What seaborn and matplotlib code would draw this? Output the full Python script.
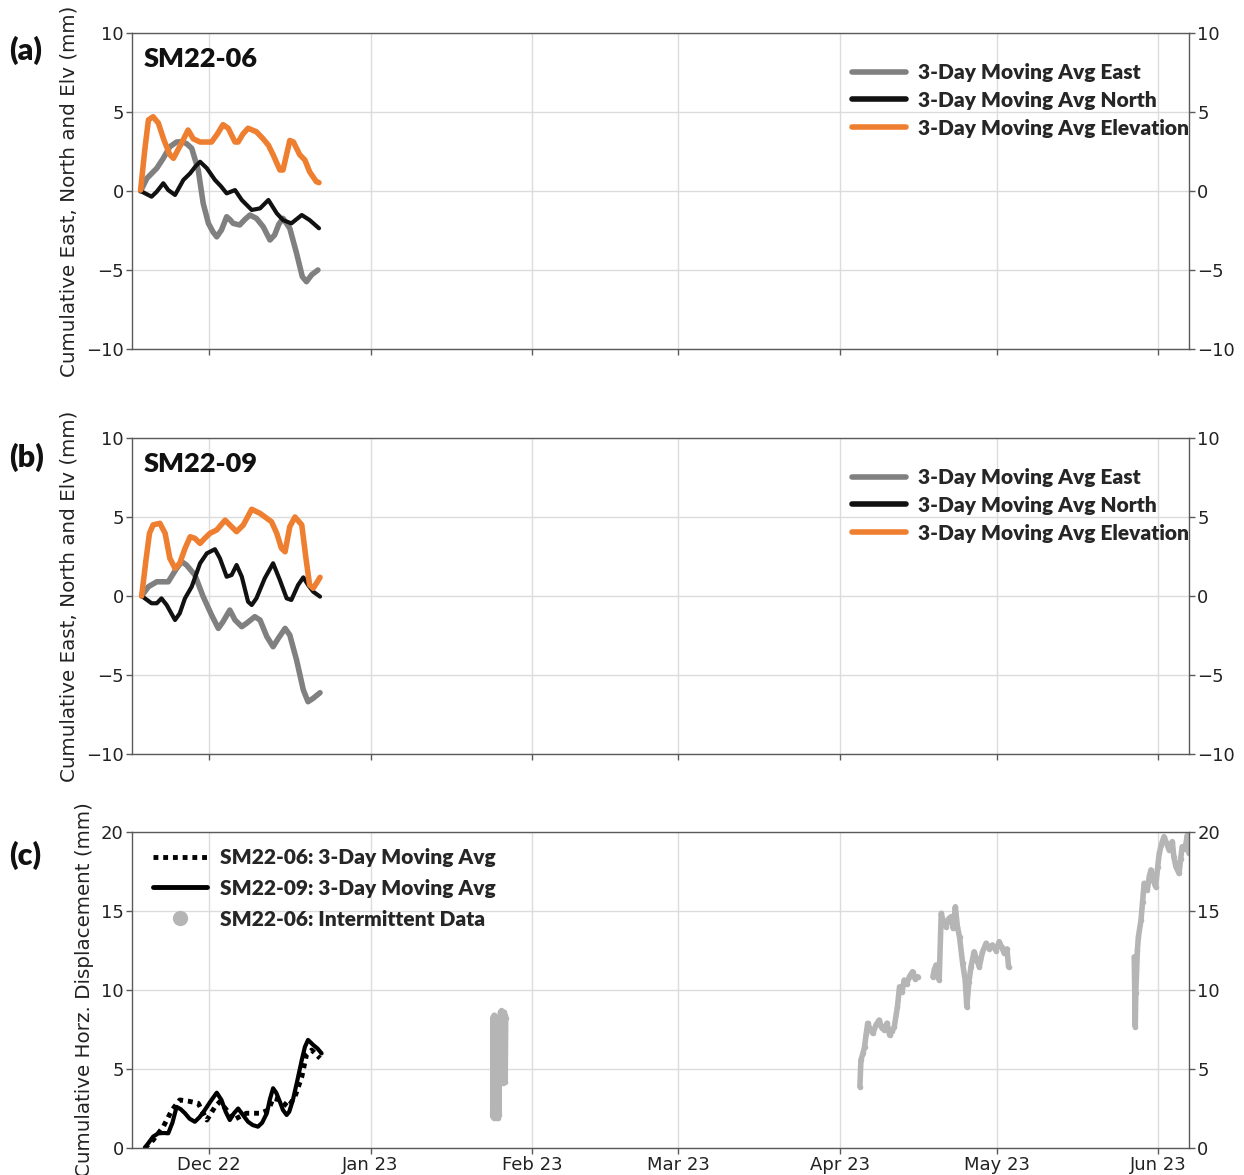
import numpy as np
import pandas as pd
import matplotlib
matplotlib.use("Agg")
import matplotlib.pyplot as plt
import matplotlib.dates as mdates
from matplotlib.lines import Line2D
import seaborn as sns

# ---------------------------------------------------------------------------
# Data: days counted from 2022-12-01, displacements in mm
# ---------------------------------------------------------------------------
BASE = pd.Timestamp("2022-12-01")

# SM22-06 (panel a)
a_east_days = [-13.1, -11.9, -10.0, -8.75, -7.5, -6.2, -5.2, -4.3, -3.3, -2.05, -1.1, -0.1, 0.8, 1.5,
               2.4, 3.4, 4.0, 4.65, 5.9, 6.9, 7.85, 9.1, 10.4, 11.7, 12.6, 13.4, 14.2, 15.5, 16.8,
               17.9, 18.7, 19.7, 20.9]
a_east = [0.0, 0.8, 1.44, 2.07, 2.8, 3.1, 3.12, 3.0, 2.7, 1.33, -0.78, -2.05, -2.6, -2.9,
          -2.47, -1.63, -1.8, -2.05, -2.15, -1.8, -1.52, -1.73, -2.26, -3.1, -2.78, -2.1, -1.73,
          -2.36, -3.94, -5.42, -5.74, -5.3, -5.0]

a_north_days = [-13.1, -11.0, -10.0, -8.75, -7.8, -6.5, -4.9, -3.6, -2.6, -1.7, -0.4, 1.15, 2.3,
                3.4, 5.0, 6.3, 8.2, 9.8, 11.4, 13.0, 14.2, 15.8, 17.8, 19.3, 21.1]
a_north = [0.0, -0.36, -0.04, 0.49, 0.06, -0.25, 0.7, 1.12, 1.55, 1.85, 1.44, 0.7, 0.3,
           -0.15, 0.06, -0.57, -1.2, -1.1, -0.57, -1.41, -1.84, -2.05, -1.52, -1.84, -2.36]

a_elev_days = [-13.1, -12.3, -11.6, -10.7, -9.7, -8.6, -7.5, -6.8, -5.3, -4.0, -3.0, -1.7, 0.5,
               1.6, 2.7, 3.7, 5.0, 5.6, 6.5, 7.5, 9.1, 10.4, 11.4, 12.3, 13.6, 14.2, 15.5, 16.2,
               17.4, 18.4, 19.3, 20.6, 21.1]
a_elev = [0.06, 2.6, 4.5, 4.7, 4.3, 3.2, 2.3, 2.07, 3.0, 3.86, 3.3, 3.1, 3.1,
          3.6, 4.2, 3.97, 3.1, 3.1, 3.6, 3.97, 3.75, 3.3, 2.9, 2.3, 1.33, 1.33, 3.2, 3.1,
          2.3, 1.96, 1.22, 0.59, 0.53]

# SM22-09 (panel b)
b_east_days = [-12.9, -11.6, -10.0, -7.8, -6.2, -5.2, -4.3, -2.7, -1.1, 0.5, 1.8, 2.7, 4.0, 5.0,
               6.3, 7.2, 8.8, 9.8, 11.1, 12.3, 13.3, 14.6, 15.5, 16.8, 18.1, 19.0, 20.0, 21.3]
b_east = [0.0, 0.59, 0.9, 0.9, 1.75, 2.17, 1.96, 1.33, -0.04, -1.2, -2.05, -1.63, -0.89, -1.52,
          -1.94, -1.73, -1.31, -1.52, -2.57, -3.21, -2.68, -2.05, -2.47, -4.05, -5.95, -6.69, -6.47, -6.12]

b_north_days = [-12.9, -11.0, -10.0, -9.1, -8.1, -6.5, -5.6, -4.6, -3.3, -1.7, -0.4, 1.15, 2.1, 3.4,
                4.35, 5.3, 6.3, 7.5, 8.2, 9.1, 10.7, 12.3, 13.6, 14.9, 15.8, 17.1, 18.1, 19.0, 20.0, 21.3]
b_north = [0.0, -0.46, -0.46, -0.15, -0.57, -1.52, -1.1, -0.15, 0.59, 2.07, 2.7, 2.96, 2.39, 1.22,
           1.33, 1.96, 1.22, -0.36, -0.57, -0.15, 1.12, 2.07, 1.01, -0.15, -0.25, 0.7, 1.18, 0.7, 0.27, -0.04]

b_elev_days = [-12.9, -12.1, -11.4, -10.7, -9.4, -8.4, -7.5, -6.5, -5.6, -4.6, -3.6, -2.7, -1.7,
               -0.8, 0.2, 1.5, 3.1, 4.0, 5.3, 6.6, 8.2, 9.8, 12.0, 13.0, 13.9, 14.6, 15.5, 16.5,
               17.8, 18.6, 19.3, 20.0, 20.6, 21.3]
b_elev = [0.0, 2.2, 3.97, 4.5, 4.6, 3.97, 2.39, 1.75, 2.07, 3.0, 3.75, 3.65, 3.33,
          3.65, 3.97, 4.18, 4.8, 4.5, 4.07, 4.5, 5.49, 5.23, 4.7, 3.97, 3.02, 2.8, 4.39, 5.0,
          4.5, 2.39, 0.7, 0.49, 0.8, 1.18]

# Horizontal displacement (panel c)
c06_days = [-12.3, -10.7, -8.75, -7.1, -5.6, -4.0, -2.05, -0.4, 1.15, 2.1, 3.4, 4.65, 7.2, 9.8,
            11.4, 12.3, 13.6, 15.2, 16.5, 17.8, 18.7, 19.7, 21.3]
c06_avg = [0.0, 0.5, 1.35, 2.4, 3.04, 2.97, 2.83, 1.77, 2.6, 2.93, 2.4, 1.77, 2.2, 2.2,
           2.4, 3.14, 3.04, 2.6, 3.25, 4.5, 5.9, 6.2, 5.68]

c09_days = [-12.3, -10.7, -9.7, -8.6, -7.8, -7.0, -6.2, -5.4, -4.6, -3.7, -2.7, -1.8, -0.8, 0.3,
            1.5, 2.4, 3.2, 4.0, 4.8, 5.6, 6.5, 7.5, 8.4, 9.4, 10.2, 11.1, 11.7, 12.3, 12.9, 13.6,
            14.2, 14.9, 15.4, 16.1, 16.9, 17.8, 18.4, 19.0, 20.0, 20.8, 21.6]
c09_avg = [0.0, 0.72, 0.93, 0.95, 0.93, 1.6, 2.6, 2.45, 2.2, 1.85, 1.66, 1.95, 2.4, 2.95,
           3.5, 3.04, 2.3, 1.77, 2.2, 2.5, 2.1, 1.66, 1.45, 1.35, 1.6, 2.2, 3.1, 3.78, 3.5, 2.93,
           2.4, 2.09, 2.3, 3.04, 4.2, 5.57, 6.4, 6.84, 6.52, 6.3, 5.99]

# SM22-06 intermittent raw records (recording windows)
jan_days = [54.4, 54.5, 54.6, 54.7, 54.8, 54.9, 55.0, 55.1, 55.2, 55.3, 55.4, 55.5, 55.6, 55.7,
            55.8, 55.9, 56.0, 56.1, 56.2, 56.3, 56.4, 56.5, 56.6, 56.7, 56.8, 56.9]
jan_vals = [2.0, 8.3, 1.9, 8.4, 2.1, 7.9, 1.9, 8.1, 2.0, 8.2, 1.9, 8.0, 2.1, 8.3,
            4.3, 8.6, 4.1, 8.7, 4.2, 8.5, 4.1, 8.6, 4.3, 8.4, 4.2, 8.2]

apr_days = [124.8, 125.0, 125.4, 125.7, 126.0, 126.3, 126.8, 127.3, 127.9, 128.5, 129.0, 129.5,
            130.0, 130.5, 131.0, 131.4, 132.0, 132.4, 132.9, 133.3, 133.8, 134.3, 134.9, 135.4,
            135.9]
apr_vals = [3.88, 5.57, 6.0, 6.41, 7.2, 7.89, 7.5, 7.26, 7.8, 8.1, 7.6, 7.47,
            7.9, 7.15, 7.4, 7.68, 8.94, 10.2, 9.9, 10.63, 10.4, 10.84, 11.16, 10.7,
            10.84]

may_days = [138.8, 139.1, 139.4, 139.7, 140.0, 140.4, 140.8, 141.3, 141.8, 142.3, 142.7, 143.1,
            143.5, 143.9, 144.5, 145.0, 145.3, 145.7, 146.1, 146.7, 147.2, 147.7, 148.3, 149.0,
            149.6, 150.2, 150.9, 151.5, 152.0, 152.5, 153.0, 153.3]
may_vals = [10.84, 11.3, 11.58, 11.0, 10.63, 14.85, 14.3, 14.0, 14.5, 14.64, 13.9, 15.27,
            14.0, 13.37, 11.69, 10.6, 8.94, 10.5, 11.47, 12.42, 11.9, 11.47, 12.4, 12.96,
            12.6, 12.85, 12.5, 13.06, 12.7, 12.32, 12.6, 11.47]

jun_days = [177.4, 177.6, 177.7, 178.0, 178.2, 178.7, 179.0, 179.3, 179.9, 180.3, 180.6, 181.0,
            181.5, 181.9, 182.2, 182.6, 183.1, 183.6, 184.1, 184.7, 185.0, 185.4, 186.0, 186.3,
            186.6, 187.1, 187.6, 187.9]
jun_vals = [12.1, 7.68, 9.79, 12.5, 13.37, 14.43, 15.6, 16.75, 16.33, 17.2, 17.6, 17.0,
            16.54, 17.8, 18.65, 19.2, 19.7, 19.3, 18.86, 19.39, 18.4, 17.8, 17.38, 18.3,
            19.07, 18.9, 19.81, 18.65]

month_fmt = "%b %y"
x_range_days = (-14.75, 187.9)

# ---------------------------------------------------------------------------
C_EAST = "#808080"
C_NORTH = "#111111"
C_ELEV = "#ef7f30"
C_RAW = "#b5b5b5"
SPINE = "#5a5a5a"


def to_dates(days):
    return BASE + pd.to_timedelta(np.asarray(days, dtype=float), unit="D")


def frame(days, vals):
    return pd.DataFrame({"date": to_dates(days), "value": vals})


sns.set_theme(style="whitegrid")
plt.rcParams["font.family"] = ["DejaVu Sans"]
BOLD_FONT = ["Lato", "DejaVu Sans"]
HEAVY = "heavy"

fig = plt.figure(figsize=(12.44, 11.75), dpi=100)
left, width = 132 / 1244, (1189 - 132) / 1244
h = 316 / 1175
ax_a = fig.add_axes([left, 1 - 349 / 1175, width, h])
ax_b = fig.add_axes([left, 1 - 754 / 1175, width, h])
ax_c = fig.add_axes([left, 1 - 1148 / 1175, width, h])


def style_axis(ax, yticks, show_xlabels):
    ax.set_facecolor("white")
    ax.grid(True, color="#dcdcdc", lw=1.0)
    for sp in ax.spines.values():
        sp.set_visible(True)
        sp.set_color(SPINE)
        sp.set_linewidth(1.0)
    ax.set_xlim(to_dates([x_range_days[0]])[0], to_dates([x_range_days[1]])[0])
    ax.set_ylim(yticks[0], yticks[-1])
    ax.set_yticks(yticks)
    ax.xaxis.set_major_locator(mdates.MonthLocator())
    ax.xaxis.set_major_formatter(mdates.DateFormatter(month_fmt))
    ax.tick_params(axis="both", which="major", labelsize=13, length=4, width=1,
                   color=SPINE, direction="out", pad=2, colors="#222222")
    ax.tick_params(axis="y", left=True, right=True, labelleft=True, labelright=True)
    ax.tick_params(axis="x", bottom=True, labelbottom=show_xlabels)
    ax.set_xlabel("")


LEG_PROP = {"family": BOLD_FONT, "weight": HEAVY, "size": 15}


def enu_panel(ax, east, north, elev, station, tag, label_y):
    sns.lineplot(data=frame(*east), x="date", y="value", ax=ax, color=C_EAST, lw=4.0,
                 label="3-Day Moving Avg East")
    sns.lineplot(data=frame(*north), x="date", y="value", ax=ax, color=C_NORTH, lw=3.0,
                 label="3-Day Moving Avg North")
    sns.lineplot(data=frame(*elev), x="date", y="value", ax=ax, color=C_ELEV, lw=4.0,
                 label="3-Day Moving Avg Elevation")
    style_axis(ax, [-10, -5, 0, 5, 10], False)
    ax.set_ylabel("Cumulative East, North and Elv (mm)", fontsize=14.3, color="#222222",
                  labelpad=5)
    ax.text(0.011, 0.955, station, transform=ax.transAxes, ha="left", va="top",
            fontsize=19.5, fontweight=HEAVY, family=BOLD_FONT, color="#111111")
    fig.text(0.007, label_y, tag, ha="left", va="center", fontsize=22, fontweight=HEAVY,
             family=BOLD_FONT, color="#111111")
    leg = ax.legend(loc="upper left", bbox_to_anchor=(0.681, 0.905), frameon=False,
                    prop=LEG_PROP, handlelength=2.6, handletextpad=0.6, labelspacing=0.42,
                    borderaxespad=0, borderpad=0)
    for line in leg.get_lines():
        line.set_linewidth(4)


enu_panel(ax_a, (a_east_days, a_east), (a_north_days, a_north), (a_elev_days, a_elev),
          "SM22-06", "(a)", 1 - 50 / 1175)
enu_panel(ax_b, (b_east_days, b_east), (b_north_days, b_north), (b_elev_days, b_elev),
          "SM22-09", "(b)", 1 - 457 / 1175)

# Panel c: horizontal displacement
sns.lineplot(data=frame(c06_days, c06_avg), x="date", y="value", ax=ax_c, color="black",
             lw=3.5, linestyle=(0, (1, 1)))
sns.lineplot(data=frame(c09_days, c09_avg), x="date", y="value", ax=ax_c, color="black", lw=3.0)
for d, v in [(jan_days, jan_vals), (apr_days, apr_vals), (may_days, may_vals), (jun_days, jun_vals)]:
    sns.lineplot(data=frame(d, v), x="date", y="value", ax=ax_c, color=C_RAW, lw=4.0,
                 marker="o", markersize=4, markeredgewidth=0, sort=False)

style_axis(ax_c, [0, 5, 10, 15, 20], True)
ax_c.set_ylabel("Cumulative Horz. Displacement (mm)", fontsize=14.3, color="#222222",
                labelpad=5)
fig.text(0.007, 1 - 855 / 1175, "(c)", ha="left", va="center", fontsize=22, fontweight=HEAVY,
         family=BOLD_FONT, color="#111111")
handles = [
    Line2D([], [], color="black", lw=3.5, linestyle=(0, (1, 1))),
    Line2D([], [], color="black", lw=3.5),
    Line2D([], [], color=C_RAW, marker="o", ls="", markersize=11, markeredgewidth=0),
]
labels = ["SM22-06: 3-Day Moving Avg", "SM22-09: 3-Day Moving Avg", "SM22-06: Intermittent Data"]
ax_c.legend(handles, labels, loc="upper left", bbox_to_anchor=(0.02, 0.95), frameon=False,
            prop=LEG_PROP, handlelength=2.6, handletextpad=0.6, labelspacing=0.57,
            borderaxespad=0, borderpad=0)

fig.savefig("out.png", dpi=100, facecolor="white")
